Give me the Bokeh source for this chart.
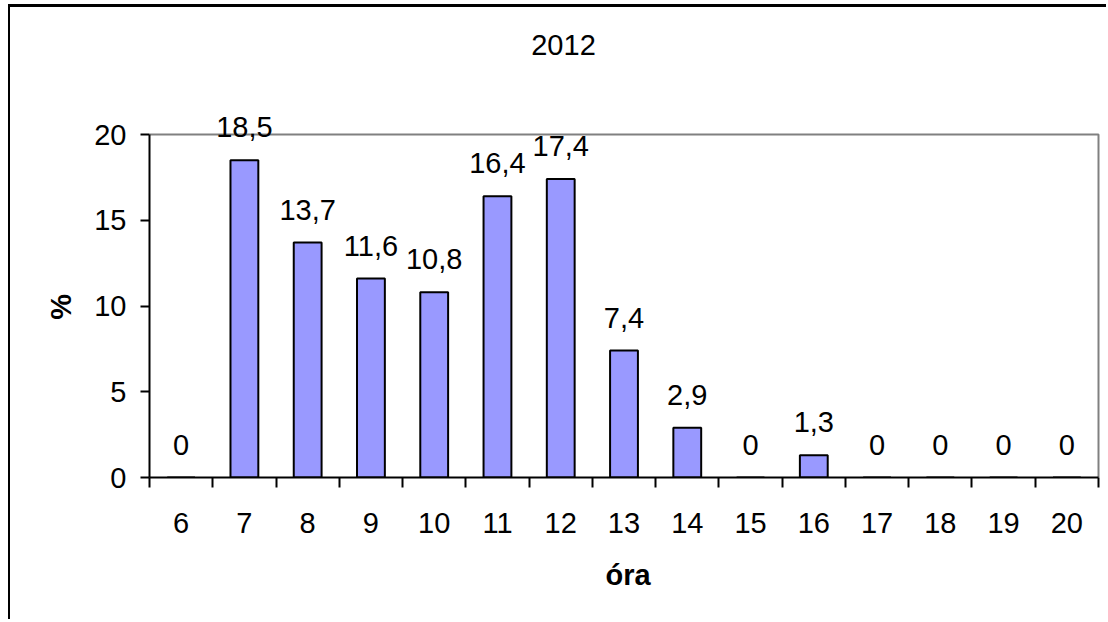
from bokeh.plotting import figure
from bokeh.models import Range1d, FixedTicker, ColumnDataSource, Label
from bokeh.core.properties import value
from bokeh.embed import file_html
from bokeh.resources import INLINE

hours = [6, 7, 8, 9, 10, 11, 12, 13, 14, 15, 16, 17, 18, 19, 20]
percent = [0, 18.5, 13.7, 11.6, 10.8, 16.4, 17.4, 7.4, 2.9, 0, 1.3, 0, 0, 0, 0]
y_ticks = [0, 5, 10, 15, 20]
title_text = "2012"
x_title = "óra"
y_title = "%"

FONT = "Liberation Sans"
FS = "29px"

# layout (pixels)
W, H = 1098, 615
BL, BR, BT, BB = 139, 2, 0, 145
PLOT_W, PLOT_H = 949, 343          # visible plot box (0..20, 5.5..20.5)
X0, X1 = 5.5, 20.5
Y0, Y1 = 0, 20
frame_w = W - BL - BR
frame_h = H - BT - BB
x_end = X0 + (X1 - X0) * frame_w / PLOT_W
y_end = Y0 + (Y1 - Y0) * frame_h / PLOT_H

labels = [f"{v:g}".replace(".", ",") for v in percent]
src = ColumnDataSource(dict(x=hours, top=percent, label=labels))

p = figure(width=W, height=H, output_backend="svg", toolbar_location=None,
           x_range=Range1d(X0, x_end), y_range=Range1d(Y0, y_end),
           min_border_left=BL, min_border_right=BR, min_border_top=BT, min_border_bottom=BB)
p.styles = {"border-top": "3px solid black", "border-left": "2px solid black",
            "margin-left": "8px", "margin-top": "4px"}
p.outline_line_color = None
p.xgrid.visible = False
p.ygrid.visible = False

# plot-area border (grey, top and right)
p.line(x=[X0, X1, X1], y=[Y1, Y1, Y0], line_color="#808080", line_width=2)

p.vbar(x="x", top="top", width=0.44, source=src, fill_color="#9999FF",
       line_color="black", line_width=2)
p.text(x="x", y="top", text="label", source=src, text_align="center",
       text_baseline="alphabetic", y_offset=-33, text_font=value(FONT),
       text_font_size=value(FS), text_color="black")

# title: centred at pixel (563, 44) of the window
title_x = X0 + (563 - 149) * (X1 - X0) / PLOT_W
title_y = Y0 + (477 - 44) * (Y1 - Y0) / PLOT_H
p.add_layout(Label(x=title_x, y=title_y, text=title_text, text_align="center",
                   text_baseline="middle", text_font=FONT, text_font_size=FS,
                   text_color="black"))

xa = p.xaxis[0]
xa.bounds = (X0, X1)
xa.ticker = FixedTicker(ticks=hours, minor_ticks=[h - 0.5 for h in hours] + [X1])
xa.major_tick_out = 0
xa.major_tick_in = 0
xa.major_tick_line_color = None
xa.minor_tick_out = 10
xa.minor_tick_in = 0
xa.minor_tick_line_color = "black"
xa.minor_tick_line_width = 2
xa.axis_line_color = "black"
xa.axis_line_width = 2
xa.major_label_standoff = 25
xa.major_label_text_font = FONT
xa.major_label_text_font_size = FS
xa.major_label_text_color = "black"
xa.axis_label = x_title
xa.axis_label_text_font = FONT
xa.axis_label_text_font_size = FS
xa.axis_label_text_font_style = "bold"
xa.axis_label_text_color = "black"
xa.axis_label_standoff = 23

ya = p.yaxis[0]
ya.bounds = (Y0, Y1)
ya.ticker = FixedTicker(ticks=y_ticks)
ya.major_tick_out = 9
ya.major_tick_in = 0
ya.major_tick_line_width = 2
ya.major_tick_line_color = "black"
ya.minor_tick_line_color = None
ya.axis_line_color = "black"
ya.axis_line_width = 2
ya.major_label_standoff = 14
ya.major_label_text_font = FONT
ya.major_label_text_font_size = FS
ya.major_label_text_color = "black"
# the frame reaches up to the top of the canvas, so pad the label with
# non-breaking spaces to centre the visible "%" on the 0..20 plot box
ya.axis_label = y_title + "\u00a0" * 16
ya.axis_label_text_font = FONT
ya.axis_label_text_font_size = FS
ya.axis_label_text_font_style = "bold"
ya.axis_label_text_color = "black"
ya.axis_label_standoff = 14

open("out.html", "w").write(file_html(p, INLINE))
